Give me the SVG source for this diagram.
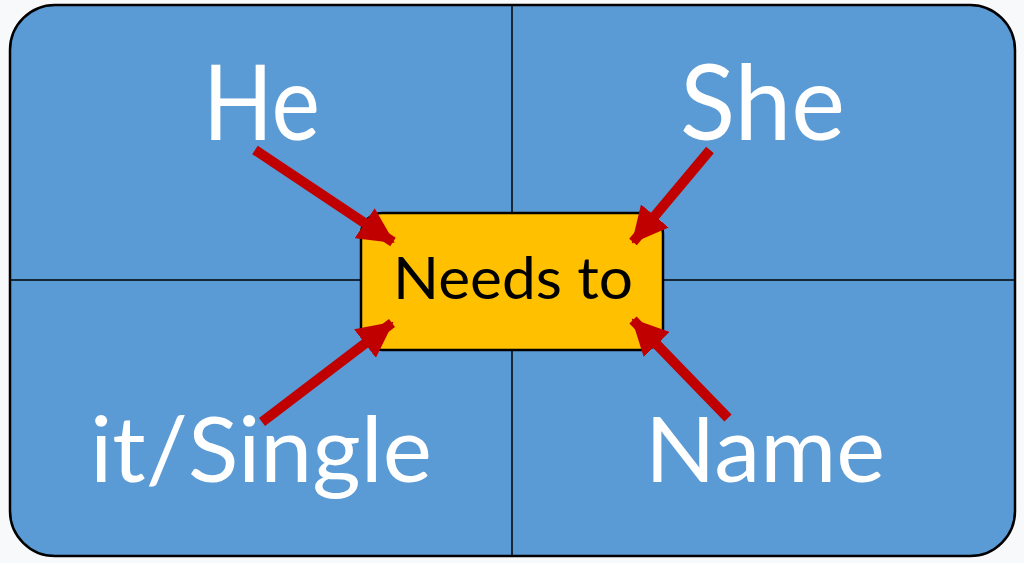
<svg xmlns="http://www.w3.org/2000/svg" width="1024" height="563" viewBox="0 0 1024 563">
<style>
.big{font-family:Lato,"Open Sans","Liberation Sans",sans-serif;fill:#fff}
.lbl{font-family:Lato,"Open Sans","Liberation Sans",sans-serif;fill:#000}
.grid{stroke:#000;stroke-width:1.5}
.arrow{stroke:#C00000;stroke-width:10;fill:none;marker-end:url(#ah)}
</style>
<defs>
<marker id="ah" markerUnits="userSpaceOnUse" markerWidth="36" markerHeight="36" refX="34" refY="18" orient="auto" viewBox="0 0 36 36">
<path d="M0,0 L36,18 L0,36 z" fill="#C00000"/>
</marker>
</defs>
<rect width="1024" height="563" fill="#F8F9FA"/>
<g id="board">
<rect x="10" y="5" width="1005" height="551" rx="45" ry="45" fill="#5B9BD5" stroke="#000" stroke-width="2.5"/>
<line class="grid" x1="512" y1="5" x2="512" y2="556"/>
<line class="grid" x1="10" y1="280" x2="1015" y2="280"/>
</g>
<g id="he"><text class="big" x="203" y="140" font-size="104" textLength="117" lengthAdjust="spacingAndGlyphs">He</text></g>
<g id="she"><text class="big" x="680" y="140" font-size="104" textLength="165" lengthAdjust="spacingAndGlyphs">She</text></g>
<g id="itsingle"><text class="big" x="90" y="482" font-size="92" textLength="342" lengthAdjust="spacingAndGlyphs">it/Single</text></g>
<g id="name"><text class="big" x="645" y="482" font-size="92" textLength="240" lengthAdjust="spacingAndGlyphs">Name</text></g>
<g id="needs">
<rect x="361" y="213" width="302" height="137" rx="21" ry="21" fill="#FFC000" stroke="#000" stroke-width="2.5"/>
<text class="lbl" x="393" y="299" font-size="59" textLength="240" lengthAdjust="spacingAndGlyphs">Needs to</text>
</g>
<g id="connectors">
<line class="arrow" x1="255" y1="150" x2="393" y2="242"/>
<line class="arrow" x1="710" y1="150" x2="633" y2="242"/>
<line class="arrow" x1="262" y1="422" x2="392" y2="323"/>
<line class="arrow" x1="728" y1="418" x2="633" y2="320"/>
</g>
</svg>
